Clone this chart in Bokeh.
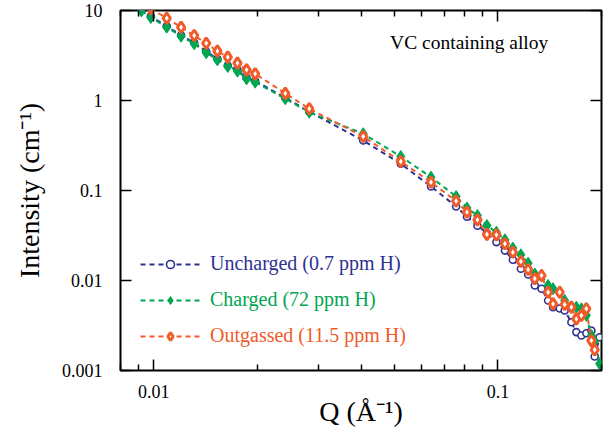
from bokeh.plotting import figure
from bokeh.models import (Range1d, LogAxis, FixedTicker, CustomJSTickFormatter,
                          Legend, LegendItem, Label)
from bokeh.embed import file_html
from bokeh.resources import INLINE

# ---------------- data ----------------
q_uncharged = [0.0092, 0.0098, 0.0109, 0.0120, 0.0131, 0.0142, 0.0153, 0.0164, 0.0175,
               0.0186, 0.0197, 0.0241, 0.0283, 0.0406, 0.0522, 0.0639, 0.0756, 0.0813,
               0.0872, 0.0929, 0.0990, 0.1048, 0.1105, 0.1166, 0.1224, 0.1280, 0.1339,
               0.1399, 0.1446, 0.1512, 0.1563, 0.1635, 0.1690, 0.1748, 0.1807, 0.1869,
               0.1911, 0.1975]
i_uncharged = [10.2, 8.6, 6.7, 5.3, 4.4, 3.5, 2.9, 2.45, 2.18, 1.79, 1.65, 1.07, 0.75,
               0.359, 0.198, 0.1107, 0.0664, 0.0511, 0.0406, 0.0336, 0.0267, 0.0215,
               0.0170, 0.01349, 0.01166, 0.0088, 0.00809, 0.0060, 0.00505, 0.00489,
               0.00464, 0.00344, 0.00267, 0.00245, 0.00259, 0.00278, 0.00143, 0.00234]

q_charged = [0.0092, 0.0098, 0.0109, 0.0120, 0.0131, 0.0142, 0.0153, 0.0164, 0.0175,
             0.0186, 0.0197, 0.0241, 0.0283, 0.0406, 0.0522, 0.0639, 0.0756, 0.0813,
             0.0872, 0.0929, 0.0990, 0.1048, 0.1105, 0.1166, 0.1224, 0.1280, 0.1339,
             0.1399, 0.1446, 0.1512, 0.1563, 0.1635, 0.1690, 0.1748, 0.1807, 0.1869,
             0.1911, 0.1975]
i_charged = [9.9, 8.36, 6.52, 5.18, 4.27, 3.39, 2.83, 2.39, 2.12, 1.74, 1.60, 1.045, 0.741,
             0.427, 0.239, 0.1406, 0.0858, 0.0640, 0.0527, 0.0408, 0.0344, 0.0283,
             0.0229, 0.0193, 0.01556, 0.0118, 0.0114, 0.0088, 0.0081, 0.00741,
             0.0060, 0.00505, 0.00505, 0.00485, 0.0041, 0.00245, 0.0021, 0.00119]

q_outgassed = [0.0098, 0.0109, 0.0120, 0.0131, 0.0142, 0.0153, 0.0164, 0.0175, 0.0186,
               0.0197, 0.0241, 0.0283, 0.0406, 0.0522, 0.0639, 0.0756, 0.0813, 0.0872,
               0.0929, 0.0990, 0.1048, 0.1105, 0.1166, 0.1224, 0.1280, 0.1339, 0.1399,
               0.1446, 0.1512, 0.1563, 0.1635, 0.1690, 0.1748, 0.1807, 0.1869, 0.1911]
i_outgassed = [10.5, 8.2, 6.52, 5.27, 4.33, 3.53, 3.03, 2.6, 2.19, 1.98, 1.2, 0.809,
               0.398, 0.210, 0.1236, 0.0764, 0.0574, 0.0472, 0.0325, 0.0322, 0.0256,
               0.0206, 0.01626, 0.01325, 0.01045, 0.01137, 0.00741, 0.00551, 0.00741,
               0.00541, 0.00505, 0.00375, 0.00408, 0.00485, 0.00215, 0.00170]

x_major = [0.01, 0.1]
x_minor = [0.008, 0.009, 0.02, 0.03, 0.04, 0.05, 0.06, 0.07, 0.08, 0.09, 0.2]
y_major = [0.001, 0.01, 0.1, 1, 10]

labels = ["Uncharged (0.7 ppm H)", "Charged (72 ppm H)", "Outgassed (11.5 ppm H)"]
colors = ["#2e3192", "#00a651", "#f15a29"]
annotation = "VC containing alloy"
x_title = "Q (\u00c5\u207b\u00b9)"
y_title = "Intensity (cm\u207b\u00b9)"

FONT = "Liberation Serif"

p = figure(frame_width=481, frame_height=360, x_axis_type="log", y_axis_type="log",
           x_range=Range1d(0.008, 0.2), y_range=Range1d(0.001, 10),
           output_backend="svg", toolbar_location=None,
           min_border_left=120, min_border_right=8, min_border_top=10, min_border_bottom=50)
p.grid.visible = False
p.outline_line_color = "black"
p.outline_line_width = 2
p.background_fill_color = "white"
p.border_fill_color = "white"

fmt = CustomJSTickFormatter(code="return parseFloat(tick.toPrecision(6)).toString();")
xt = FixedTicker(ticks=x_major, minor_ticks=x_minor)
yt = FixedTicker(ticks=y_major, minor_ticks=[])

for ax in (p.xaxis[0], p.yaxis[0]):
    ax.formatter = fmt
    ax.axis_line_color = None
    ax.major_tick_in = 11
    ax.major_tick_out = 0
    ax.minor_tick_in = 6
    ax.minor_tick_out = 0
    ax.major_tick_line_width = 1.5
    ax.minor_tick_line_width = 1.5
    ax.major_tick_line_color = "black"
    ax.minor_tick_line_color = "black"
    ax.major_label_text_font = FONT
    ax.major_label_text_font_size = "18px"
    ax.major_label_text_color = "black"
    ax.axis_label_text_font = FONT
    ax.axis_label_text_font_size = "28px"
    ax.axis_label_text_font_style = "normal"
    ax.axis_label_text_color = "black"

p.xaxis[0].ticker = xt
p.yaxis[0].ticker = yt
p.xaxis[0].axis_label = x_title
p.xaxis[0].major_label_standoff = 14
p.xaxis[0].axis_label_standoff = -5
p.yaxis[0].axis_label = y_title
p.yaxis[0].minor_tick_line_color = None
p.yaxis[0].major_label_standoff = 18
p.yaxis[0].axis_label_standoff = 14

top = LogAxis(ticker=xt, major_label_text_font_size="1px", major_label_text_color=None,
              major_label_standoff=0, axis_line_color=None,
              major_tick_in=11, major_tick_out=0, minor_tick_in=6, minor_tick_out=0,
              major_tick_line_width=1.5, minor_tick_line_width=1.5)
right = LogAxis(ticker=yt, major_label_text_font_size="1px", major_label_text_color=None,
                major_label_standoff=0, axis_line_color=None,
                major_tick_in=11, major_tick_out=0, minor_tick_line_color=None,
                major_tick_line_width=1.5)
p.add_layout(top, "above")
p.add_layout(right, "right")

# ---------------- series ----------------
lb = p.line(q_uncharged, i_uncharged, line_color=colors[0], line_width=2, line_dash="5 4")
sb = p.scatter(q_uncharged, i_uncharged, marker="circle", size=7, line_color=colors[0],
               line_width=1.6, fill_color="white")
lg = p.line(q_charged, i_charged, line_color=colors[1], line_width=2, line_dash="5 4")
sg = p.scatter(q_charged, i_charged, marker="diamond", size=12, line_color=colors[1],
               line_width=1, fill_color=colors[1])
lo = p.line(q_outgassed, i_outgassed, line_color=colors[2], line_width=2, line_dash="5 4")
so = p.scatter(q_outgassed, i_outgassed, marker="diamond", size=11, line_color=colors[2],
               line_width=3, fill_color="white")

rends = [(lb, sb), (lg, sg), (lo, so)]
bottoms = [95, 59, 23]
for (ln, sc), lab, col, yb in zip(rends, labels, colors, bottoms):
    leg = Legend(items=[LegendItem(label=lab, renderers=[ln, sc])], location=(20, yb),
                 padding=0, margin=0, border_line_color=None, background_fill_alpha=0,
                 glyph_width=60, glyph_height=20, label_height=20, label_standoff=10,
                 label_text_font=FONT, label_text_font_size="20px", label_text_color=col)
    p.add_layout(leg, "center")

p.add_layout(Label(x=0.0486, y=4.4, text=annotation, text_font=FONT,
                   text_font_size="19.5px", text_align="left", text_baseline="middle",
                   text_color="black"))

open("out.html", "w").write(file_html(p, INLINE))
